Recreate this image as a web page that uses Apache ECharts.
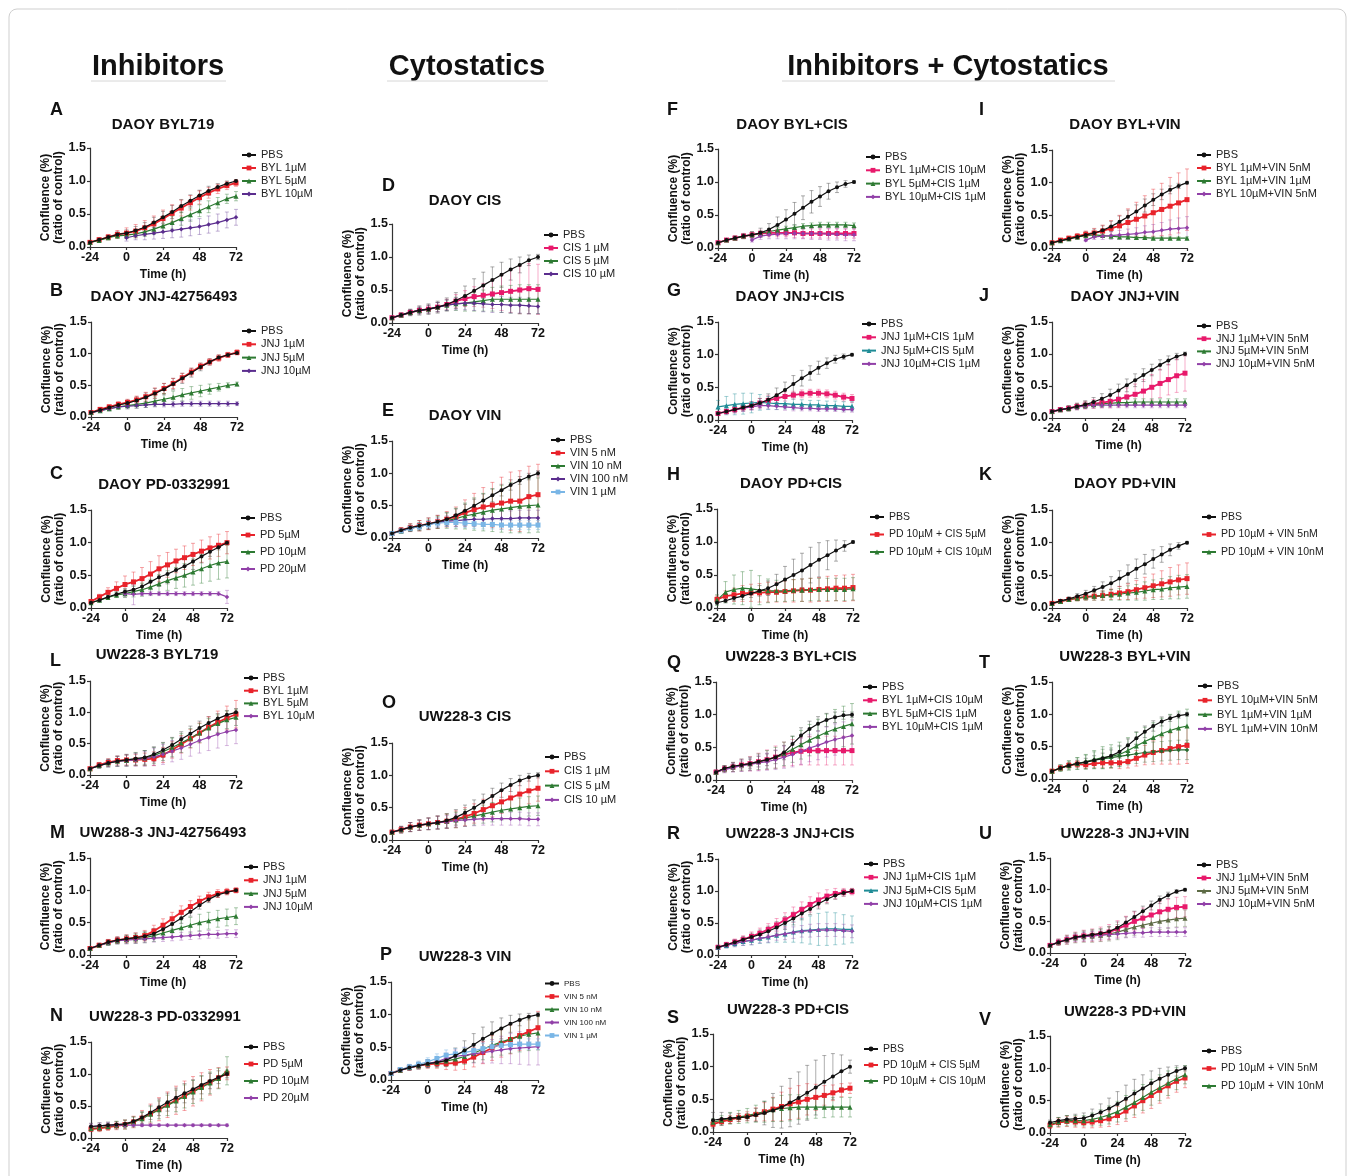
<!DOCTYPE html>
<html>
<head>
<meta charset="utf-8">
<script src="https://cdn.jsdelivr.net/npm/echarts@6/dist/echarts.min.js"></script>
<style>
  html, body { margin: 0; padding: 0; background: #fff; }
  #fig { width: 1355px; height: 1176px; }
</style>
</head>
<body>
<div id="fig"></div>
<script>
// time points (h), every 6 h
const hours = [-24, -18, -12, -6, 0, 6, 12, 18, 24, 30, 36, 42, 48, 54, 60, 66, 72];

/* A - DAOY BYL719 */
const aPbs = [0.07,0.11,0.15,0.19,0.21,0.25,0.30,0.37,0.45,0.53,0.62,0.70,0.78,0.85,0.91,0.96,1.00];
const aPbsE = [0.01,0.02,0.03,0.04,0.05,0.06,0.07,0.08,0.09,0.10,0.10,0.09,0.08,0.07,0.05,0.04,0.02];
const aByl1 = [0.07,0.11,0.15,0.19,0.21,0.24,0.29,0.35,0.43,0.51,0.59,0.67,0.75,0.82,0.88,0.93,0.97];
const aByl1E = [0.01,0.03,0.04,0.06,0.08,0.10,0.11,0.12,0.13,0.13,0.12,0.11,0.10,0.08,0.07,0.06,0.05];
const aByl5 = [0.07,0.10,0.14,0.17,0.18,0.20,0.23,0.27,0.32,0.37,0.43,0.49,0.55,0.61,0.67,0.73,0.77];
const aByl5E = [0.01,0.02,0.03,0.04,0.05,0.06,0.07,0.08,0.09,0.10,0.10,0.10,0.09,0.09,0.08,0.07,0.07];
const aByl10 = [null,null,null,null,0.14,0.17,0.19,0.21,0.23,0.25,0.27,0.29,0.31,0.34,0.37,0.41,0.45];
const aByl10E = [null,null,null,null,0.05,0.06,0.08,0.09,0.10,0.11,0.12,0.12,0.12,0.13,0.13,0.12,0.12];

/* B - DAOY JNJ-42756493 */
const bPbs = [0.07,0.11,0.15,0.19,0.22,0.26,0.31,0.37,0.44,0.52,0.61,0.70,0.79,0.87,0.94,0.98,1.01];
const bPbsE = [0.01,0.02,0.03,0.04,0.05,0.06,0.07,0.08,0.09,0.09,0.08,0.07,0.06,0.05,0.04,0.03,0.02];
const bJnj1 = [0.07,0.12,0.16,0.20,0.23,0.27,0.32,0.38,0.45,0.53,0.62,0.71,0.80,0.87,0.93,0.98,1.02];
const bJnj1E = [0.01,0.02,0.03,0.04,0.05,0.06,0.07,0.08,0.08,0.08,0.07,0.06,0.05,0.05,0.05,0.04,0.04];
const bJnj5 = [0.07,0.10,0.13,0.16,0.18,0.20,0.22,0.25,0.28,0.31,0.35,0.38,0.41,0.44,0.47,0.50,0.52];
const bJnj5E = [0.01,0.02,0.03,0.04,0.05,0.06,0.07,0.08,0.09,0.10,0.10,0.10,0.09,0.08,0.06,0.04,0.03];
const bJnj10 = [0.07,0.10,0.13,0.16,0.17,0.18,0.19,0.20,0.20,0.20,0.21,0.21,0.21,0.21,0.21,0.21,0.21];
const bJnj10E = [0.01,0.02,0.03,0.03,0.04,0.04,0.04,0.04,0.04,0.04,0.04,0.04,0.04,0.04,0.04,0.04,0.03];

/* C - DAOY PD-0332991 */
const cPbs = [0.08,0.12,0.17,0.21,0.25,0.28,0.33,0.40,0.47,0.52,0.58,0.64,0.71,0.79,0.86,0.93,1.00];
const cPbsE = [0.01,0.02,0.03,0.04,0.05,0.07,0.10,0.12,0.14,0.15,0.15,0.14,0.12,0.10,0.07,0.04,0.02];
const cPd5 = [0.10,0.17,0.24,0.30,0.36,0.40,0.45,0.52,0.60,0.66,0.72,0.77,0.82,0.87,0.92,0.96,1.00];
const cPd5E = [0.02,0.04,0.07,0.10,0.13,0.15,0.17,0.19,0.20,0.19,0.18,0.18,0.17,0.17,0.17,0.17,0.17];
const cPd10 = [0.08,0.12,0.16,0.20,0.22,0.25,0.28,0.32,0.37,0.42,0.46,0.50,0.55,0.60,0.65,0.69,0.71];
const cPd10E = [0.01,0.02,0.03,0.04,0.06,0.08,0.10,0.12,0.14,0.15,0.16,0.18,0.20,0.22,0.24,0.25,0.25];
const cPd20 = [null,null,null,null,0.22,0.21,0.22,0.22,0.22,0.22,0.22,0.22,0.22,0.22,0.22,0.22,0.17];
const cPd20E = [null,null,null,null,0.05,0.16,0.03,0.03,0.03,0.03,0.03,0.03,0.03,0.03,0.03,0.03,0.10];

/* L - UW228-3 BYL719 */
const lPbs = [0.10,0.15,0.19,0.22,0.24,0.26,0.28,0.33,0.40,0.48,0.57,0.66,0.75,0.83,0.90,0.96,1.00];
const lPbsE = [0.02,0.04,0.06,0.08,0.09,0.10,0.11,0.12,0.12,0.12,0.12,0.12,0.11,0.10,0.08,0.07,0.06];
const lByl1 = [0.10,0.16,0.20,0.23,0.24,0.24,0.25,0.26,0.32,0.40,0.49,0.58,0.67,0.76,0.84,0.91,0.97];
const lByl1E = [0.02,0.04,0.06,0.07,0.08,0.09,0.10,0.11,0.12,0.13,0.14,0.15,0.16,0.17,0.18,0.19,0.22];
const lByl5 = [0.10,0.15,0.19,0.22,0.23,0.25,0.27,0.31,0.37,0.44,0.51,0.59,0.67,0.75,0.82,0.88,0.92];
const lByl5E = [0.02,0.04,0.06,0.08,0.09,0.10,0.12,0.13,0.14,0.15,0.15,0.15,0.15,0.15,0.14,0.14,0.13];
const lByl10 = [0.10,0.15,0.19,0.22,0.23,0.24,0.26,0.29,0.33,0.38,0.43,0.49,0.55,0.60,0.65,0.69,0.72];
const lByl10E = [0.02,0.04,0.06,0.08,0.09,0.10,0.12,0.14,0.16,0.17,0.18,0.19,0.20,0.21,0.22,0.22,0.22];

/* M - UW288-3 JNJ-42756493 */
const mPbs = [0.10,0.15,0.20,0.23,0.25,0.27,0.29,0.33,0.40,0.48,0.57,0.67,0.77,0.86,0.93,0.97,1.00];
const mPbsE = [0.02,0.03,0.04,0.05,0.06,0.07,0.07,0.08,0.08,0.08,0.08,0.07,0.06,0.05,0.04,0.03,0.02];
const mJnj1 = [0.10,0.15,0.20,0.23,0.25,0.27,0.30,0.37,0.46,0.56,0.66,0.75,0.83,0.90,0.95,0.98,1.00];
const mJnj1E = [0.02,0.03,0.04,0.05,0.06,0.07,0.08,0.09,0.10,0.10,0.10,0.09,0.08,0.07,0.06,0.05,0.04];
const mJnj5 = [0.10,0.15,0.19,0.22,0.24,0.25,0.27,0.30,0.34,0.38,0.42,0.46,0.50,0.53,0.56,0.58,0.60];
const mJnj5E = [0.02,0.03,0.04,0.05,0.06,0.07,0.08,0.09,0.10,0.11,0.12,0.12,0.13,0.13,0.13,0.13,0.13];
const mJnj10 = [0.10,0.15,0.19,0.22,0.23,0.24,0.25,0.26,0.27,0.28,0.29,0.30,0.31,0.32,0.32,0.33,0.33];
const mJnj10E = [0.02,0.03,0.04,0.05,0.06,0.06,0.06,0.06,0.06,0.06,0.06,0.06,0.06,0.06,0.06,0.06,0.06];

/* N - UW228-3 PD-0332991 */
const nPbs = [0.18,0.19,0.20,0.21,0.22,0.26,0.32,0.40,0.48,0.56,0.63,0.70,0.76,0.83,0.89,0.95,1.00];
const nPbsE = [0.05,0.05,0.05,0.05,0.06,0.07,0.09,0.11,0.13,0.14,0.15,0.15,0.15,0.14,0.12,0.10,0.06];
const nPd5 = [0.14,0.15,0.17,0.19,0.21,0.25,0.31,0.38,0.45,0.52,0.59,0.66,0.73,0.80,0.87,0.94,1.01];
const nPd5E = [0.04,0.05,0.05,0.06,0.07,0.09,0.12,0.15,0.18,0.20,0.22,0.23,0.23,0.22,0.20,0.16,0.10];
const nPd10 = [0.15,0.16,0.18,0.20,0.21,0.25,0.30,0.37,0.44,0.51,0.58,0.65,0.72,0.79,0.86,0.93,1.05];
const nPd10E = [0.04,0.05,0.05,0.06,0.07,0.08,0.10,0.12,0.14,0.16,0.17,0.18,0.18,0.18,0.17,0.16,0.22];
const nPd20 = [0.18,0.19,0.20,0.20,0.20,0.20,0.20,0.20,0.20,0.20,0.20,0.20,0.20,0.20,0.20,0.20,0.20];
const nPd20E = [0.04,0.04,0.04,0.03,0.03,0.02,0.02,0.02,0.02,0.02,0.02,0.02,0.02,0.02,0.02,0.02,0.02];

/* D - DAOY CIS */
const dPbs = [0.08,0.12,0.16,0.19,0.21,0.24,0.28,0.34,0.41,0.49,0.57,0.65,0.73,0.81,0.88,0.95,1.00];
const dPbsE = [0.02,0.03,0.05,0.07,0.08,0.09,0.10,0.12,0.15,0.18,0.20,0.20,0.19,0.16,0.12,0.08,0.04];
const dCis1 = [0.08,0.12,0.16,0.19,0.21,0.24,0.28,0.33,0.37,0.40,0.42,0.44,0.46,0.48,0.50,0.52,0.51];
const dCis1E = [0.02,0.03,0.04,0.05,0.06,0.07,0.08,0.10,0.12,0.15,0.18,0.22,0.27,0.32,0.36,0.38,0.38];
const dCis5 = [0.08,0.12,0.16,0.19,0.21,0.24,0.27,0.29,0.30,0.32,0.34,0.36,0.36,0.36,0.36,0.36,0.36];
const dCis5E = [0.02,0.03,0.04,0.05,0.06,0.07,0.08,0.10,0.12,0.14,0.16,0.18,0.20,0.21,0.22,0.22,0.22];
const dCis10 = [0.08,0.12,0.16,0.19,0.21,0.24,0.27,0.29,0.30,0.30,0.29,0.28,0.28,0.27,0.27,0.26,0.25];
const dCis10E = [0.02,0.03,0.04,0.05,0.06,0.07,0.08,0.09,0.10,0.11,0.12,0.12,0.12,0.12,0.12,0.12,0.11];

/* E - DAOY VIN */
const ePbs = [0.07,0.12,0.16,0.19,0.22,0.25,0.29,0.35,0.42,0.50,0.58,0.66,0.74,0.82,0.89,0.95,1.00];
const ePbsE = [0.02,0.04,0.06,0.08,0.09,0.10,0.10,0.10,0.10,0.10,0.10,0.10,0.09,0.08,0.06,0.05,0.04];
const eVin5 = [0.07,0.12,0.16,0.19,0.22,0.25,0.29,0.33,0.39,0.44,0.48,0.51,0.54,0.57,0.57,0.64,0.67];
const eVin5E = [0.02,0.04,0.06,0.08,0.09,0.10,0.12,0.15,0.20,0.25,0.30,0.35,0.40,0.45,0.47,0.47,0.47];
const eVin10 = [0.07,0.11,0.15,0.18,0.21,0.24,0.27,0.30,0.34,0.37,0.40,0.43,0.45,0.47,0.49,0.50,0.51];
const eVin10E = [0.02,0.03,0.05,0.06,0.07,0.09,0.12,0.16,0.20,0.25,0.29,0.33,0.36,0.39,0.41,0.42,0.42];
const eVin100 = [0.07,0.11,0.15,0.18,0.21,0.24,0.26,0.27,0.28,0.29,0.29,0.30,0.30,0.30,0.31,0.31,0.31];
const eVin100E = [0.02,0.03,0.04,0.05,0.06,0.07,0.08,0.09,0.10,0.11,0.11,0.12,0.12,0.12,0.12,0.12,0.12];
const eVin1u = [0.07,0.11,0.15,0.18,0.21,0.23,0.24,0.24,0.23,0.22,0.21,0.21,0.20,0.20,0.20,0.20,0.20];
const eVin1uE = [0.02,0.03,0.04,0.05,0.05,0.06,0.06,0.07,0.07,0.07,0.07,0.07,0.07,0.07,0.07,0.07,0.07];

/* O - UW228-3 CIS */
const oPbs = [0.12,0.16,0.20,0.23,0.25,0.27,0.30,0.35,0.42,0.50,0.59,0.68,0.77,0.85,0.92,0.97,1.00];
const oPbsE = [0.03,0.05,0.07,0.08,0.09,0.10,0.11,0.12,0.12,0.12,0.12,0.12,0.11,0.10,0.08,0.06,0.04];
const oCis1 = [0.12,0.16,0.20,0.23,0.25,0.27,0.29,0.32,0.36,0.41,0.47,0.53,0.59,0.65,0.71,0.76,0.80];
const oCis1E = [0.03,0.05,0.07,0.08,0.09,0.10,0.11,0.13,0.14,0.15,0.16,0.17,0.18,0.19,0.20,0.20,0.20];
const oCis5 = [0.12,0.16,0.20,0.23,0.25,0.27,0.29,0.31,0.34,0.37,0.40,0.43,0.46,0.48,0.50,0.52,0.53];
const oCis5E = [0.03,0.05,0.07,0.08,0.09,0.10,0.11,0.12,0.13,0.14,0.14,0.15,0.15,0.15,0.15,0.15,0.15];
const oCis10 = [0.12,0.16,0.20,0.23,0.25,0.27,0.28,0.30,0.31,0.32,0.33,0.33,0.33,0.33,0.33,0.32,0.32];
const oCis10E = [0.03,0.05,0.07,0.08,0.09,0.10,0.10,0.10,0.10,0.10,0.10,0.10,0.10,0.10,0.10,0.10,0.10];

/* P - UW228-3 VIN */
const pPbs = [0.10,0.15,0.19,0.22,0.25,0.27,0.30,0.37,0.45,0.54,0.63,0.71,0.79,0.86,0.92,0.97,1.00];
const pPbsE = [0.02,0.03,0.04,0.05,0.06,0.07,0.09,0.12,0.15,0.17,0.18,0.18,0.16,0.13,0.09,0.05,0.03];
const pVin5 = [0.10,0.15,0.19,0.22,0.24,0.25,0.25,0.26,0.29,0.35,0.42,0.49,0.56,0.62,0.68,0.74,0.80];
const pVin5E = [0.02,0.03,0.04,0.05,0.06,0.07,0.09,0.11,0.13,0.15,0.17,0.19,0.21,0.22,0.23,0.24,0.25];
const pVin10 = [0.10,0.15,0.19,0.22,0.25,0.27,0.29,0.32,0.36,0.41,0.47,0.53,0.58,0.63,0.67,0.70,0.72];
const pVin10E = [0.02,0.03,0.04,0.05,0.06,0.07,0.08,0.10,0.12,0.14,0.16,0.18,0.20,0.22,0.24,0.25,0.26];
const pVin100 = [0.10,0.15,0.19,0.22,0.25,0.28,0.33,0.36,0.38,0.40,0.42,0.44,0.46,0.48,0.49,0.50,0.51];
const pVin100E = [0.02,0.03,0.04,0.05,0.06,0.07,0.08,0.10,0.12,0.14,0.16,0.18,0.21,0.23,0.25,0.27,0.28];
const pVin1u = [0.10,0.16,0.20,0.24,0.28,0.33,0.38,0.40,0.42,0.45,0.48,0.51,0.53,0.54,0.55,0.55,0.55];
const pVin1uE = [0.02,0.03,0.04,0.05,0.06,0.07,0.08,0.08,0.08,0.08,0.08,0.08,0.08,0.08,0.08,0.08,0.08];

/* F - DAOY BYL+CIS */
const fPbs = [0.08,0.12,0.15,0.18,0.20,0.23,0.28,0.35,0.43,0.52,0.61,0.70,0.78,0.86,0.92,0.97,1.00];
const fPbsE = [0.01,0.02,0.03,0.04,0.05,0.07,0.09,0.12,0.15,0.17,0.18,0.17,0.15,0.12,0.08,0.05,0.02];
const fByl1Cis10 = [0.08,0.12,0.15,0.18,0.20,0.22,0.23,0.23,0.23,0.23,0.22,0.22,0.22,0.22,0.22,0.22,0.22];
const fByl1Cis10E = [0.01,0.02,0.03,0.03,0.04,0.05,0.06,0.06,0.06,0.07,0.07,0.07,0.07,0.07,0.07,0.07,0.07];
const fByl5Cis1 = [0.08,0.12,0.15,0.18,0.20,0.22,0.25,0.27,0.29,0.31,0.33,0.34,0.35,0.35,0.35,0.35,0.34];
const fByl5Cis1E = [0.01,0.02,0.03,0.03,0.04,0.04,0.04,0.04,0.04,0.04,0.04,0.04,0.04,0.04,0.04,0.04,0.04];
const fByl10Cis1 = [null,null,null,null,0.12,0.18,0.20,0.21,0.22,0.22,0.22,0.22,0.22,0.21,0.21,0.20,0.20];
const fByl10Cis1E = [null,null,null,null,0.03,0.05,0.06,0.07,0.08,0.08,0.08,0.09,0.09,0.09,0.09,0.09,0.09];

/* G - DAOY JNJ+CIS */
const gPbs = [0.10,0.13,0.16,0.19,0.22,0.26,0.31,0.38,0.46,0.55,0.64,0.72,0.80,0.87,0.93,0.97,1.00];
const gPbsE = [0.02,0.03,0.04,0.05,0.06,0.07,0.09,0.11,0.12,0.13,0.12,0.11,0.10,0.08,0.06,0.04,0.02];
const gJnj1Cis1 = [0.10,0.13,0.16,0.19,0.22,0.26,0.30,0.33,0.36,0.38,0.40,0.41,0.41,0.40,0.38,0.35,0.33];
const gJnj1Cis1E = [0.03,0.04,0.05,0.05,0.06,0.07,0.07,0.07,0.07,0.06,0.06,0.06,0.06,0.06,0.06,0.06,0.06];
const gJnj5Cis5 = [0.20,0.22,0.24,0.25,0.26,0.27,0.26,0.25,0.25,0.24,0.24,0.23,0.23,0.22,0.22,0.21,0.21];
const gJnj5Cis5E = [0.10,0.14,0.16,0.16,0.15,0.12,0.10,0.09,0.08,0.08,0.07,0.07,0.07,0.07,0.07,0.07,0.07];
const gJnj10Cis1 = [0.10,0.13,0.16,0.18,0.20,0.22,0.22,0.21,0.20,0.19,0.18,0.18,0.17,0.17,0.17,0.16,0.16];
const gJnj10Cis1E = [0.03,0.04,0.05,0.05,0.05,0.05,0.05,0.05,0.05,0.05,0.04,0.04,0.04,0.04,0.04,0.04,0.04];

/* H - DAOY PD+CIS */
const hPbs = [0.08,0.11,0.15,0.18,0.22,0.26,0.30,0.36,0.43,0.50,0.57,0.65,0.73,0.80,0.87,0.94,1.00];
const hPbsE = [0.02,0.03,0.04,0.05,0.06,0.08,0.11,0.15,0.20,0.24,0.26,0.27,0.26,0.22,0.16,0.08,0.02];
const hPd10Cis5 = [0.13,0.18,0.20,0.22,0.23,0.23,0.24,0.24,0.25,0.26,0.27,0.27,0.28,0.29,0.30,0.30,0.31];
const hPd10Cis5E = [0.05,0.08,0.10,0.12,0.13,0.14,0.15,0.15,0.16,0.17,0.17,0.18,0.18,0.19,0.19,0.20,0.20];
const hPd10Cis10 = [0.12,0.24,0.28,0.30,0.29,0.27,0.26,0.26,0.26,0.27,0.27,0.28,0.28,0.28,0.28,0.28,0.29];
const hPd10Cis10E = [0.08,0.16,0.22,0.25,0.28,0.22,0.18,0.16,0.16,0.16,0.17,0.17,0.17,0.17,0.17,0.17,0.17];

/* Q - UW228-3 BYL+CIS */
const qPbs = [0.12,0.18,0.21,0.23,0.25,0.28,0.31,0.35,0.42,0.55,0.68,0.78,0.86,0.92,0.96,0.99,1.00];
const qPbsE = [0.03,0.04,0.05,0.06,0.07,0.08,0.09,0.10,0.11,0.12,0.12,0.12,0.11,0.10,0.08,0.06,0.04];
const qByl1Cis10 = [0.12,0.17,0.20,0.23,0.25,0.28,0.31,0.35,0.39,0.42,0.44,0.45,0.45,0.45,0.45,0.45,0.45];
const qByl1Cis10E = [0.03,0.05,0.07,0.09,0.11,0.13,0.15,0.17,0.19,0.20,0.21,0.22,0.22,0.22,0.22,0.22,0.22];
const qByl5Cis1 = [0.12,0.17,0.20,0.23,0.25,0.28,0.31,0.34,0.40,0.47,0.54,0.61,0.67,0.73,0.78,0.82,0.86];
const qByl5Cis1E = [0.03,0.05,0.07,0.09,0.10,0.12,0.14,0.16,0.18,0.20,0.22,0.24,0.26,0.28,0.30,0.31,0.31];
const qByl10Cis1 = [0.12,0.16,0.19,0.22,0.24,0.26,0.28,0.31,0.35,0.39,0.44,0.49,0.53,0.58,0.62,0.65,0.68];
const qByl10Cis1E = [0.03,0.05,0.07,0.09,0.10,0.12,0.13,0.15,0.17,0.19,0.20,0.21,0.22,0.23,0.24,0.24,0.24];

/* R - UW228-3 JNJ+CIS */
const rPbs = [0.12,0.16,0.20,0.24,0.28,0.32,0.37,0.43,0.50,0.57,0.65,0.72,0.80,0.87,0.93,0.97,1.00];
const rPbsE = [0.02,0.03,0.04,0.05,0.06,0.07,0.08,0.09,0.10,0.10,0.10,0.09,0.08,0.07,0.06,0.05,0.04];
const rJnj1Cis1 = [0.12,0.16,0.20,0.24,0.29,0.34,0.40,0.47,0.55,0.63,0.71,0.79,0.86,0.92,0.96,0.98,0.99];
const rJnj1Cis1E = [0.03,0.04,0.05,0.06,0.07,0.08,0.09,0.10,0.11,0.12,0.12,0.12,0.11,0.10,0.08,0.06,0.05];
const rJnj5Cis5 = [0.12,0.15,0.18,0.21,0.23,0.26,0.28,0.31,0.33,0.36,0.38,0.39,0.40,0.41,0.41,0.40,0.40];
const rJnj5Cis5E = [0.03,0.04,0.05,0.06,0.07,0.08,0.09,0.11,0.13,0.16,0.19,0.22,0.25,0.26,0.25,0.23,0.21];
const rJnj10Cis1 = [0.12,0.15,0.18,0.21,0.23,0.26,0.28,0.31,0.33,0.35,0.37,0.38,0.39,0.39,0.39,0.38,0.37];
const rJnj10Cis1E = [0.03,0.04,0.05,0.06,0.07,0.07,0.08,0.08,0.09,0.09,0.09,0.10,0.10,0.10,0.10,0.10,0.10];

/* S - UW228-3 PD+CIS */
const sPbs = [0.18,0.20,0.21,0.22,0.23,0.26,0.29,0.33,0.38,0.45,0.52,0.60,0.68,0.77,0.85,0.93,1.00];
const sPbsE = [0.12,0.10,0.08,0.06,0.05,0.10,0.18,0.26,0.32,0.37,0.40,0.42,0.42,0.40,0.35,0.25,0.10];
const sPd10Cis5 = [0.12,0.16,0.19,0.22,0.24,0.27,0.31,0.35,0.39,0.43,0.46,0.50,0.53,0.56,0.60,0.64,0.67];
const sPd10Cis5E = [0.04,0.05,0.06,0.06,0.07,0.10,0.14,0.18,0.22,0.24,0.25,0.24,0.20,0.15,0.12,0.10,0.08];
const sPd10Cis10 = [0.15,0.18,0.21,0.23,0.25,0.28,0.31,0.34,0.36,0.37,0.38,0.38,0.38,0.38,0.38,0.38,0.38];
const sPd10Cis10E = [0.05,0.07,0.09,0.10,0.11,0.13,0.16,0.18,0.20,0.20,0.19,0.18,0.17,0.16,0.15,0.15,0.15];

/* I - DAOY BYL+VIN */
const iPbs = [0.08,0.11,0.14,0.17,0.20,0.23,0.27,0.33,0.40,0.48,0.56,0.65,0.74,0.82,0.89,0.95,1.00];
const iPbsE = [0.01,0.02,0.03,0.04,0.05,0.06,0.07,0.08,0.09,0.10,0.10,0.10,0.09,0.08,0.06,0.04,0.02];
const iByl1Vin5 = [0.08,0.12,0.15,0.18,0.21,0.23,0.26,0.30,0.34,0.39,0.44,0.49,0.54,0.59,0.64,0.69,0.74];
const iByl1Vin5E = [0.01,0.02,0.03,0.04,0.05,0.07,0.09,0.12,0.16,0.21,0.26,0.31,0.36,0.40,0.44,0.46,0.47];
const iByl1Vin1u = [0.08,0.11,0.14,0.17,0.19,0.20,0.19,0.18,0.17,0.17,0.16,0.16,0.15,0.15,0.15,0.15,0.15];
const iByl1Vin1uE = [0.01,0.02,0.02,0.02,0.02,0.02,0.02,0.02,0.02,0.02,0.02,0.02,0.02,0.02,0.02,0.02,0.02];
const iByl10Vin5 = [null,null,null,null,0.12,0.17,0.18,0.19,0.20,0.21,0.22,0.24,0.25,0.27,0.29,0.30,0.31];
const iByl10Vin5E = [null,null,null,null,0.02,0.04,0.05,0.06,0.07,0.08,0.09,0.10,0.11,0.12,0.14,0.16,0.17];

/* J - DAOY JNJ+VIN */
const jPbs = [0.10,0.13,0.15,0.18,0.21,0.25,0.30,0.36,0.43,0.51,0.59,0.67,0.75,0.83,0.90,0.96,1.00];
const jPbsE = [0.02,0.03,0.04,0.05,0.06,0.07,0.08,0.09,0.10,0.10,0.10,0.10,0.09,0.08,0.07,0.05,0.03];
const jJnj1Vin5 = [0.10,0.13,0.15,0.18,0.20,0.22,0.24,0.26,0.29,0.33,0.37,0.42,0.48,0.54,0.60,0.66,0.70];
const jJnj1Vin5E = [0.02,0.03,0.04,0.05,0.06,0.07,0.08,0.10,0.12,0.14,0.16,0.18,0.20,0.22,0.24,0.26,0.28];
const jJnj5Vin5 = [0.10,0.13,0.15,0.18,0.20,0.21,0.22,0.23,0.24,0.24,0.25,0.25,0.25,0.25,0.25,0.25,0.25];
const jJnj5Vin5E = [0.02,0.03,0.04,0.04,0.05,0.05,0.05,0.05,0.05,0.05,0.05,0.05,0.05,0.05,0.05,0.05,0.05];
const jJnj10Vin5 = [0.10,0.13,0.15,0.17,0.19,0.20,0.20,0.20,0.20,0.20,0.20,0.20,0.20,0.20,0.20,0.20,0.20];
const jJnj10Vin5E = [0.02,0.03,0.03,0.04,0.04,0.04,0.04,0.04,0.04,0.04,0.04,0.04,0.04,0.04,0.04,0.04,0.04];

/* K - DAOY PD+VIN */
const kPbs = [0.07,0.11,0.14,0.18,0.22,0.27,0.32,0.38,0.45,0.52,0.60,0.67,0.75,0.82,0.89,0.95,1.00];
const kPbsE = [0.01,0.02,0.03,0.04,0.05,0.06,0.08,0.10,0.12,0.14,0.15,0.15,0.14,0.12,0.09,0.05,0.02];
const kPd10Vin5 = [0.07,0.10,0.13,0.15,0.17,0.18,0.19,0.21,0.23,0.25,0.28,0.31,0.34,0.37,0.40,0.43,0.45];
const kPd10Vin5E = [0.01,0.02,0.03,0.04,0.05,0.06,0.07,0.08,0.10,0.12,0.14,0.16,0.18,0.20,0.22,0.23,0.24];
const kPd10Vin10 = [0.07,0.10,0.13,0.15,0.17,0.18,0.19,0.20,0.21,0.23,0.24,0.26,0.28,0.29,0.31,0.32,0.33];
const kPd10Vin10E = [0.01,0.02,0.03,0.04,0.05,0.06,0.07,0.08,0.09,0.11,0.12,0.14,0.15,0.16,0.17,0.18,0.18];

/* T - UW228-3 BYL+VIN */
const tPbs = [0.12,0.17,0.21,0.24,0.26,0.29,0.32,0.36,0.42,0.52,0.63,0.73,0.82,0.89,0.94,0.98,1.00];
const tPbsE = [0.02,0.03,0.04,0.05,0.06,0.07,0.08,0.09,0.10,0.10,0.10,0.09,0.08,0.07,0.05,0.04,0.03];
const tByl10Vin5 = [0.12,0.17,0.21,0.23,0.22,0.24,0.25,0.25,0.25,0.27,0.32,0.37,0.41,0.44,0.47,0.50,0.52];
const tByl10Vin5E = [0.02,0.03,0.04,0.05,0.06,0.06,0.07,0.08,0.09,0.10,0.12,0.15,0.18,0.21,0.24,0.27,0.28];
const tByl1Vin1u = [0.12,0.17,0.21,0.24,0.27,0.30,0.33,0.35,0.38,0.44,0.51,0.58,0.64,0.70,0.75,0.79,0.82];
const tByl1Vin1uE = [0.03,0.05,0.07,0.09,0.11,0.14,0.17,0.18,0.19,0.20,0.21,0.22,0.23,0.24,0.25,0.26,0.26];
const tByl1Vin10 = [0.12,0.17,0.21,0.24,0.26,0.29,0.31,0.33,0.35,0.37,0.39,0.41,0.42,0.43,0.44,0.45,0.45];
const tByl1Vin10E = [0.03,0.05,0.07,0.09,0.11,0.13,0.15,0.15,0.15,0.15,0.15,0.15,0.15,0.15,0.15,0.15,0.15];

/* U - UW228-3 JNJ+VIN */
const uPbs = [0.12,0.17,0.21,0.25,0.27,0.29,0.31,0.34,0.40,0.48,0.57,0.66,0.75,0.84,0.91,0.97,1.00];
const uPbsE = [0.02,0.03,0.04,0.05,0.06,0.06,0.07,0.08,0.09,0.09,0.09,0.08,0.07,0.06,0.05,0.03,0.02];
const uJnj1Vin5 = [0.12,0.17,0.21,0.25,0.27,0.28,0.30,0.33,0.38,0.44,0.50,0.55,0.60,0.65,0.69,0.72,0.73];
const uJnj1Vin5E = [0.03,0.05,0.07,0.08,0.09,0.10,0.11,0.12,0.13,0.14,0.15,0.16,0.16,0.16,0.16,0.16,0.16];
const uJnj5Vin5 = [0.12,0.17,0.21,0.24,0.26,0.27,0.28,0.30,0.33,0.37,0.41,0.44,0.47,0.50,0.52,0.54,0.55];
const uJnj5Vin5E = [0.03,0.05,0.07,0.08,0.09,0.10,0.10,0.11,0.12,0.12,0.13,0.13,0.13,0.13,0.13,0.13,0.13];
const uJnj10Vin5 = [0.12,0.17,0.21,0.24,0.26,0.27,0.28,0.29,0.30,0.31,0.32,0.32,0.33,0.33,0.33,0.33,0.33];
const uJnj10Vin5E = [0.03,0.04,0.05,0.06,0.07,0.07,0.07,0.07,0.07,0.07,0.07,0.07,0.07,0.07,0.07,0.07,0.07];

/* V - UW228-3 PD+VIN */
const vPbs = [0.16,0.19,0.21,0.22,0.23,0.27,0.32,0.38,0.45,0.53,0.61,0.69,0.77,0.84,0.90,0.96,1.00];
const vPbsE = [0.04,0.05,0.06,0.07,0.08,0.10,0.13,0.16,0.19,0.21,0.22,0.21,0.19,0.16,0.12,0.08,0.04];
const vPd10Vin5 = [0.12,0.16,0.18,0.17,0.16,0.17,0.19,0.22,0.27,0.34,0.42,0.50,0.58,0.66,0.73,0.80,0.85];
const vPd10Vin5E = [0.05,0.07,0.08,0.08,0.08,0.09,0.10,0.12,0.14,0.16,0.18,0.19,0.20,0.20,0.19,0.17,0.15];
const vPd10Vin10 = [0.13,0.17,0.19,0.19,0.19,0.21,0.24,0.28,0.33,0.40,0.47,0.55,0.63,0.70,0.77,0.84,0.90];
const vPd10Vin10E = [0.05,0.07,0.08,0.08,0.08,0.10,0.12,0.14,0.16,0.18,0.19,0.20,0.20,0.20,0.19,0.17,0.14];

const FONT = 'Arial, "Liberation Sans", Helvetica, sans-serif';

/* colour + marker per group */
const styles = {
  pbs:    { c: '#111111', e: 'rgba(70,70,70,0.55)',   s: 'circle',   z: 4 },
  red:    { c: '#e8232b', e: 'rgba(232,35,43,0.5)',   s: 'rect',     z: 5 },
  green:  { c: '#2d7a32', e: 'rgba(45,122,50,0.5)',   s: 'triangle', z: 5 },
  purple: { c: '#5b2d8e', e: 'rgba(91,45,142,0.45)',  s: 'diamond',  z: 4.5 },
  violet: { c: '#9140a8', e: 'rgba(145,64,168,0.45)', s: 'diamond',  z: 4.5 },
  pink:   { c: '#e8196b', e: 'rgba(232,25,107,0.45)', s: 'rect',     z: 5 },
  teal:   { c: '#1f8c96', e: 'rgba(31,140,150,0.5)',  s: 'triangle', z: 5 },
  blue:   { c: '#7ab6e6', e: 'rgba(122,182,230,0.6)', s: 'rect',     z: 5 },
  olive:  { c: '#5d6b45', e: 'rgba(93,107,69,0.5)',   s: 'triangle', z: 5 },
  dkgreen:{ c: '#2a6a30', e: 'rgba(42,106,48,0.45)',  s: 'diamond',  z: 4.5, lc: '#9140a8' }
};

/* panel layout: grid [left, top, width, height], legend [left, top, row step, font size] */
const panels = [
  { id: 'A', title: 'DAOY BYL719', t: [163, 125], l: [50, 110], grid: [90, 148, 146, 99], leg: [241, 149, 13, 11],
    series: [['PBS', aPbs, aPbsE, 'pbs'], ['BYL 1µM', aByl1, aByl1E, 'red'], ['BYL 5µM', aByl5, aByl5E, 'green'], ['BYL 10µM', aByl10, aByl10E, 'purple']] },
  { id: 'B', title: 'DAOY JNJ-42756493', t: [164, 297], l: [50, 291], grid: [91, 322, 146, 95], leg: [241, 325, 13.3, 11],
    series: [['PBS', bPbs, bPbsE, 'pbs'], ['JNJ 1µM', bJnj1, bJnj1E, 'red'], ['JNJ 5µM', bJnj5, bJnj5E, 'green'], ['JNJ 10µM', bJnj10, bJnj10E, 'purple']] },
  { id: 'C', title: 'DAOY PD-0332991', t: [164, 485], l: [50, 474], grid: [91, 510, 136, 98], leg: [240, 512, 17, 11],
    series: [['PBS', cPbs, cPbsE, 'pbs'], ['PD 5µM', cPd5, cPd5E, 'red'], ['PD 10µM', cPd10, cPd10E, 'green'], ['PD 20µM', cPd20, cPd20E, 'violet']] },
  { id: 'L', title: 'UW228-3 BYL719', t: [157, 655], l: [50, 661], grid: [90, 681, 146, 94], leg: [243, 672, 12.7, 11],
    series: [['PBS', lPbs, lPbsE, 'pbs'], ['BYL 1µM', lByl1, lByl1E, 'red'], ['BYL 5µM', lByl5, lByl5E, 'green'], ['BYL 10µM', lByl10, lByl10E, 'violet']] },
  { id: 'M', title: 'UW288-3 JNJ-42756493', t: [163, 833], l: [50, 833], grid: [90, 858, 146, 97], leg: [243, 861, 13.3, 11],
    series: [['PBS', mPbs, mPbsE, 'pbs'], ['JNJ 1µM', mJnj1, mJnj1E, 'red'], ['JNJ 5µM', mJnj5, mJnj5E, 'green'], ['JNJ 10µM', mJnj10, mJnj10E, 'violet']] },
  { id: 'N', title: 'UW228-3 PD-0332991', t: [165, 1017], l: [50, 1016], grid: [91, 1042, 136, 96], leg: [243, 1041, 17, 11],
    series: [['PBS', nPbs, nPbsE, 'pbs'], ['PD 5µM', nPd5, nPd5E, 'red'], ['PD 10µM', nPd10, nPd10E, 'green'], ['PD 20µM', nPd20, nPd20E, 'violet']] },
  { id: 'D', title: 'DAOY CIS', t: [465, 201], l: [382, 186], grid: [392, 224, 146, 99], leg: [543, 229, 13, 11],
    series: [['PBS', dPbs, dPbsE, 'pbs'], ['CIS 1 µM', dCis1, dCis1E, 'pink'], ['CIS 5 µM', dCis5, dCis5E, 'green'], ['CIS 10 µM', dCis10, dCis10E, 'purple']] },
  { id: 'E', title: 'DAOY VIN', t: [465, 416], l: [382, 411], grid: [392, 441, 146, 97], leg: [550, 434, 13, 11],
    series: [['PBS', ePbs, ePbsE, 'pbs'], ['VIN 5 nM', eVin5, eVin5E, 'red'], ['VIN 10 nM', eVin10, eVin10E, 'green'], ['VIN 100 nM', eVin100, eVin100E, 'purple'], ['VIN 1 µM', eVin1u, eVin1uE, 'blue']] },
  { id: 'O', title: 'UW228-3 CIS', t: [465, 717], l: [382, 703], grid: [392, 743, 146, 97], leg: [544, 751, 14.3, 11],
    series: [['PBS', oPbs, oPbsE, 'pbs'], ['CIS 1 µM', oCis1, oCis1E, 'red'], ['CIS 5 µM', oCis5, oCis5E, 'green'], ['CIS 10 µM', oCis10, oCis10E, 'violet']] },
  { id: 'P', title: 'UW228-3 VIN', t: [465, 957], l: [380, 955], grid: [391, 982, 147, 98], leg: [544, 979, 13, 8],
    series: [['PBS', pPbs, pPbsE, 'pbs'], ['VIN 5 nM', pVin5, pVin5E, 'red'], ['VIN 10 nM', pVin10, pVin10E, 'green'], ['VIN 100 nM', pVin100, pVin100E, 'violet'], ['VIN 1 µM', pVin1u, pVin1uE, 'blue']] },
  { id: 'F', title: 'DAOY BYL+CIS', t: [792, 125], l: [667, 110], grid: [718, 149, 136, 99], leg: [865, 151, 13.3, 11],
    series: [['PBS', fPbs, fPbsE, 'pbs'], ['BYL 1µM+CIS 10µM', fByl1Cis10, fByl1Cis10E, 'pink'], ['BYL 5µM+CIS 1µM', fByl5Cis1, fByl5Cis1E, 'green'], ['BYL 10µM+CIS 1µM', fByl10Cis1, fByl10Cis1E, 'violet']] },
  { id: 'G', title: 'DAOY JNJ+CIS', t: [790, 297], l: [667, 291], grid: [718, 322, 134, 98], leg: [861, 318, 13.3, 11],
    series: [['PBS', gPbs, gPbsE, 'pbs'], ['JNJ 1µM+CIS 1µM', gJnj1Cis1, gJnj1Cis1E, 'pink'], ['JNJ 5µM+CIS 5µM', gJnj5Cis5, gJnj5Cis5E, 'teal'], ['JNJ 10µM+CIS 1µM', gJnj10Cis1, gJnj10Cis1E, 'violet']] },
  { id: 'H', title: 'DAOY PD+CIS', t: [791, 484], l: [869, 475], grid: [717, 509, 136, 99], leg: [869, 511, 17.5, 10.5],
    series: [['PBS', hPbs, hPbsE, 'pbs'], ['PD 10µM + CIS 5µM', hPd10Cis5, hPd10Cis5E, 'red'], ['PD 10µM + CIS 10µM', hPd10Cis10, hPd10Cis10E, 'green']] },
  { id: 'Q', title: 'UW228-3 BYL+CIS', t: [791, 657], l: [667, 663], grid: [716, 682, 136, 98], leg: [862, 681, 13.3, 11],
    series: [['PBS', qPbs, qPbsE, 'pbs'], ['BYL 1µM+CIS 10µM', qByl1Cis10, qByl1Cis10E, 'pink'], ['BYL 5µM+CIS 1µM', qByl5Cis1, qByl5Cis1E, 'green'], ['BYL 10µM+CIS 1µM', qByl10Cis1, qByl10Cis1E, 'violet']] },
  { id: 'R', title: 'UW228-3 JNJ+CIS', t: [790, 834], l: [667, 834], grid: [718, 859, 134, 96], leg: [863, 858, 13.3, 11],
    series: [['PBS', rPbs, rPbsE, 'pbs'], ['JNJ 1µM+CIS 1µM', rJnj1Cis1, rJnj1Cis1E, 'pink'], ['JNJ 5µM+CIS 5µM', rJnj5Cis5, rJnj5Cis5E, 'teal'], ['JNJ 10µM+CIS 1µM', rJnj10Cis1, rJnj10Cis1E, 'violet']] },
  { id: 'S', title: 'UW228-3 PD+CIS', t: [788, 1010], l: [667, 1018], grid: [713, 1034, 137, 98], leg: [863, 1043, 16, 10.5],
    series: [['PBS', sPbs, sPbsE, 'pbs'], ['PD 10µM + CIS 5µM', sPd10Cis5, sPd10Cis5E, 'red'], ['PD 10µM + CIS 10µM', sPd10Cis10, sPd10Cis10E, 'green']] },
  { id: 'I', title: 'DAOY BYL+VIN', t: [1125, 125], l: [979, 110], grid: [1052, 150, 135, 98], leg: [1196, 149, 13, 11],
    series: [['PBS', iPbs, iPbsE, 'pbs'], ['BYL 1µM+VIN 5nM', iByl1Vin5, iByl1Vin5E, 'red'], ['BYL 1µM+VIN 1µM', iByl1Vin1u, iByl1Vin1uE, 'green'], ['BYL 10µM+VIN 5nM', iByl10Vin5, iByl10Vin5E, 'violet']] },
  { id: 'J', title: 'DAOY JNJ+VIN', t: [1125, 297], l: [979, 296], grid: [1052, 322, 133, 96], leg: [1196, 320, 12.7, 11],
    series: [['PBS', jPbs, jPbsE, 'pbs'], ['JNJ 1µM+VIN 5nM', jJnj1Vin5, jJnj1Vin5E, 'pink'], ['JNJ 5µM+VIN 5nM', jJnj5Vin5, jJnj5Vin5E, 'green'], ['JNJ 10µM+VIN 5nM', jJnj10Vin5, jJnj10Vin5E, 'violet']] },
  { id: 'K', title: 'DAOY PD+VIN', t: [1125, 484], l: [979, 475], grid: [1052, 510, 135, 98], leg: [1201, 511, 17.5, 10.5],
    series: [['PBS', kPbs, kPbsE, 'pbs'], ['PD 10µM + VIN 5nM', kPd10Vin5, kPd10Vin5E, 'red'], ['PD 10µM + VIN 10nM', kPd10Vin10, kPd10Vin10E, 'green']] },
  { id: 'T', title: 'UW228-3 BYL+VIN', t: [1125, 657], l: [979, 663], grid: [1052, 682, 135, 97], leg: [1197, 680, 14.3, 11],
    series: [['PBS', tPbs, tPbsE, 'pbs'], ['BYL 10µM+VIN 5nM', tByl10Vin5, tByl10Vin5E, 'red'], ['BYL 1µM+VIN 1µM', tByl1Vin1u, tByl1Vin1uE, 'green'], ['BYL 1µM+VIN 10nM', tByl1Vin10, tByl1Vin10E, 'dkgreen']] },
  { id: 'U', title: 'UW228-3 JNJ+VIN', t: [1125, 834], l: [979, 834], grid: [1050, 858, 135, 95], leg: [1196, 859, 13, 11],
    series: [['PBS', uPbs, uPbsE, 'pbs'], ['JNJ 1µM+VIN 5nM', uJnj1Vin5, uJnj1Vin5E, 'pink'], ['JNJ 5µM+VIN 5nM', uJnj5Vin5, uJnj5Vin5E, 'olive'], ['JNJ 10µM+VIN 5nM', uJnj10Vin5, uJnj10Vin5E, 'violet']] },
  { id: 'V', title: 'UW228-3 PD+VIN', t: [1125, 1012], l: [979, 1020], grid: [1050, 1036, 135, 97], leg: [1201, 1045, 17.5, 10.5],
    series: [['PBS', vPbs, vPbsE, 'pbs'], ['PD 10µM + VIN 5nM', vPd10Vin5, vPd10Vin5E, 'red'], ['PD 10µM + VIN 10nM', vPd10Vin10, vPd10Vin10E, 'green']] }
];
// panel H letter sits at the column's left edge like the others
panels.find(p => p.id === 'H').l = [667, 475];

const headers = [['Inhibitors', 158, 91, 226], ['Cytostatics', 467, 387, 548], ['Inhibitors + Cytostatics', 948, 782, 1115]];

/* error bar drawn through the axis scale */
function errorBar(color) {
  return function (params, api) {
    const x = api.value(0), y = api.value(1), e = api.value(2);
    const hi = api.coord([x, Math.min(1.5, y + e)]);
    const lo = api.coord([x, Math.max(0, y - e)]);
    const st = { stroke: color, lineWidth: 0.8 };
    return {
      type: 'group',
      children: [
        { type: 'line', shape: { x1: hi[0], y1: hi[1], x2: lo[0], y2: lo[1] }, style: st },
        { type: 'line', shape: { x1: hi[0] - 2, y1: hi[1], x2: hi[0] + 2, y2: hi[1] }, style: st },
        { type: 'line', shape: { x1: lo[0] - 2, y1: lo[1], x2: lo[0] + 2, y2: lo[1] }, style: st }
      ]
    };
  };
}

const chart = echarts.init(document.getElementById('fig'));
const grid = [], xAxis = [], yAxis = [], series = [], legend = [], graphic = [];
const tickTxt = { fontFamily: FONT, fontWeight: 'bold', fontSize: 12.5, color: '#111' };
const nameTxt = { fontFamily: FONT, fontWeight: 'bold', fontSize: 12, color: '#111' };

graphic.push({ type: 'rect', shape: { x: 9, y: 9, width: 1337, height: 1185, r: 8 },
  style: { fill: 'none', stroke: '#cfcfcf', lineWidth: 1 }, silent: true });

headers.forEach(h => {
  graphic.push({ type: 'text', x: h[1], y: 67, silent: true,
    style: { text: h[0], font: 'bold 29px ' + FONT, fill: '#111', textAlign: 'center', align: 'center', textVerticalAlign: 'middle', verticalAlign: 'middle' } });
  graphic.push({ type: 'line', shape: { x1: h[2], y1: 81, x2: h[3], y2: 81 }, style: { stroke: '#d6d6d6', lineWidth: 1 }, silent: true });
});

panels.forEach((p, i) => {
  grid.push({ left: p.grid[0], top: p.grid[1], width: p.grid[2], height: p.grid[3] });
  xAxis.push({
    gridIndex: i, type: 'value', min: -24, max: 72, interval: 24,
    name: 'Time (h)', nameLocation: 'middle', nameGap: 22, nameTextStyle: nameTxt,
    axisLine: { onZero: false, lineStyle: { color: '#333', width: 1.2 } },
    axisTick: { length: 3, lineStyle: { color: '#333', width: 1.2 } },
    axisLabel: Object.assign({ margin: 4 }, tickTxt),
    splitLine: { show: false }
  });
  yAxis.push({
    gridIndex: i, type: 'value', min: 0, max: 1.5, interval: 0.5,
    name: 'Confluence (%)\n(ratio of control)', nameLocation: 'middle', nameRotate: 90, nameGap: 25,
    nameTextStyle: Object.assign({ lineHeight: 13 }, nameTxt),
    axisLine: { show: true, onZero: false, lineStyle: { color: '#333', width: 1.2 } },
    axisTick: { show: true, length: 3, lineStyle: { color: '#333', width: 1.2 } },
    axisLabel: Object.assign({ margin: 4, formatter: v => v.toFixed(1) }, tickTxt),
    splitLine: { show: false }
  });

  const names = [];
  p.series.forEach(([label, vals, errs, key]) => {
    const st = styles[key];
    const name = label + '|' + p.id;
    const pts = [], bars = [];
    hours.forEach((h, k) => {
      if (vals[k] == null) return;
      pts.push([h, vals[k]]);
      if (errs[k] != null) bars.push([h, vals[k], errs[k]]);
    });
    series.push({
      type: 'custom', name: name + '_err', xAxisIndex: i, yAxisIndex: i,
      data: bars, encode: { x: 0, y: 1 }, renderItem: errorBar(st.e), z: 1, silent: true
    });
    series.push({
      type: 'line', name: name, xAxisIndex: i, yAxisIndex: i, data: pts,
      symbol: st.s, symbolSize: st.z, showSymbol: true, z: key === 'pbs' ? 4 : 3,
      itemStyle: { color: st.c }, lineStyle: { color: st.c, width: key === 'red' || key === 'pink' ? 1.8 : 1.2 }
    });
    const item = { name: name };
    if (st.lc) { item.itemStyle = { color: st.lc }; item.lineStyle = { color: st.lc }; }
    names.push(item);
  });

  const fs = p.leg[3];
  const lh = Math.round(fs + 1);
  legend.push({
    left: p.leg[0], top: p.leg[1], orient: 'vertical', padding: 0,
    itemGap: p.leg[2] - lh, itemWidth: 14, itemHeight: 6, selectedMode: false,
    textStyle: { fontFamily: FONT, fontSize: fs, color: '#222', lineHeight: lh },
    formatter: n => n.split('|')[0],
    data: names
  });

  graphic.push({ type: 'text', x: p.t[0], y: p.t[1], silent: true,
    style: { text: p.title, font: 'bold 15px ' + FONT, fill: '#111', textAlign: 'center', align: 'center', textVerticalAlign: 'middle', verticalAlign: 'middle' } });
  graphic.push({ type: 'text', x: p.l[0], y: p.l[1], silent: true,
    style: { text: p.id, font: 'bold 18px ' + FONT, fill: '#111', textAlign: 'left', align: 'left', textVerticalAlign: 'middle', verticalAlign: 'middle' } });
});

chart.setOption({
  animation: false,
  backgroundColor: '#fff',
  grid: grid,
  xAxis: xAxis,
  yAxis: yAxis,
  legend: legend,
  series: series,
  graphic: graphic
});
</script>
</body>
</html>
